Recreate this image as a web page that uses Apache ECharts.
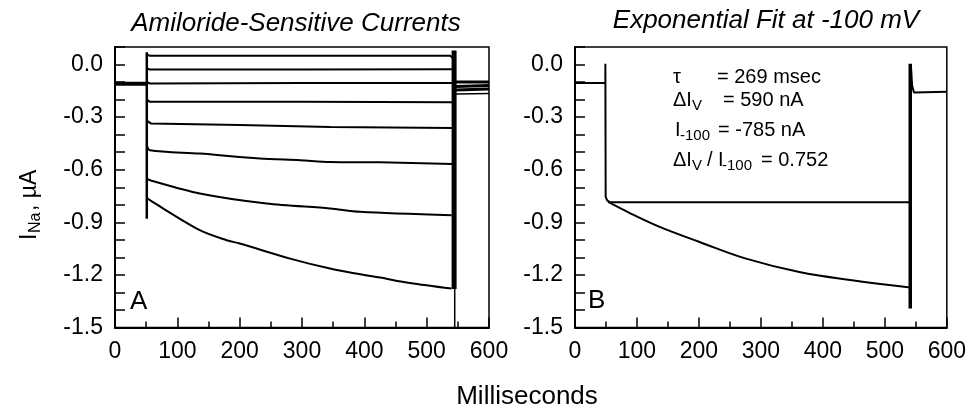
<!DOCTYPE html>
<html>
<head>
<meta charset="utf-8">
<script src="https://cdn.jsdelivr.net/npm/echarts@6/dist/echarts.min.js"></script>
<style>
  html, body { margin: 0; padding: 0; background: #fff; }
  #chart { width: 969px; height: 408px; }
</style>
</head>
<body>
<div id="chart"></div>
<script>
// panel A: amiloride-sensitive currents (ms, uA)
const preA = [[0, -0.11], [51, -0.11]];
const onA = [[51, 0.07], [51, -0.88]];
const traceA1 = [[51, 0.06], [56, 0.05], [300, 0.05], [538, 0.05], [542, 0.035]];
const traceA2 = [[51, -0.02], [56, -0.029], [300, -0.028], [542, -0.027]];
const traceA3 = [[51, -0.1], [56, -0.108], [300, -0.106], [542, -0.105]];
const traceA4 = [[51, -0.2], [56, -0.213], [300, -0.213], [542, -0.215]];
const traceA5 = [[51, -0.32], [58, -0.337], [200, -0.345], [345, -0.356], [542, -0.362]];
const traceA6 = [[51, -0.46], [56, -0.489], [136, -0.508], [232, -0.536], [297, -0.546], [345, -0.556], [425, -0.558], [542, -0.568]];
const traceA7 = [[51, -0.65], [56, -0.66], [136, -0.736], [243, -0.793], [345, -0.821], [393, -0.84], [540, -0.86]];
const traceA8 = [[51, -0.76], [56, -0.774], [136, -0.945], [179, -1.002], [200, -1.021], [281, -1.107], [345, -1.164], [393, -1.196], [425, -1.215], [473, -1.246], [540, -1.278]];
const offA = [[544, 0.08], [544, -1.28]];
const offTailA = [[545, -1.28], [545, -1.5]];
const postA1 = [[547, -0.1], [600, -0.1]];
const postA2 = [[547, -0.125], [600, -0.12]];
const postA3 = [[547, -0.145], [600, -0.14]];
const postA4 = [[547, -0.168], [600, -0.165]];

// panel B: exponential fit at -100 mV
const preB = [[0, -0.105], [49, -0.105], [49, 0.005], [49.5, -0.755], [52, -0.775], [56, -0.785], [541, -0.785]];
const fitB = [[53.5, -0.784], [90, -0.85], [136.6, -0.926], [201, -1.012], [276, -1.107], [362, -1.183], [447, -1.23], [541, -1.272]];
const offB = [[541, 0.005], [541, -1.392]];
const postB = [[542, 0.0], [544, -0.12], [547, -0.16], [549, -0.165], [600, -0.155]];

const FONT = 'Liberation Sans';

function xAxis(gi) {
  return {
    type: 'value', gridIndex: gi, min: 0, max: 600, interval: 100,
    axisLine: { show: true, onZero: false, lineStyle: { color: '#000', width: 2 } },
    axisTick: { inside: true, length: 10, lineStyle: { color: '#000', width: 1.5 } },
    minorTick: { show: true, splitNumber: 2, length: 6, lineStyle: { color: '#000', width: 1.5 } },
    splitLine: { show: false },
    axisLabel: { color: '#000', fontSize: 23, fontFamily: FONT, margin: 13 }
  };
}

function yAxis(gi) {
  return {
    type: 'value', gridIndex: gi, min: -1.5, max: 0.1, interval: 0.1,
    axisLine: { show: true, onZero: false, lineStyle: { color: '#000', width: 2 } },
    axisTick: { inside: true, length: 10, lineStyle: { color: '#000', width: 1.5 } },
    splitLine: { show: false },
    axisLabel: {
      color: '#000', fontSize: 23, fontFamily: FONT, margin: 12,
      formatter: v => {
        const k = Math.round(v * 10);
        return k % 3 === 0 && k <= 0 ? (k / 10).toFixed(1) : '';
      }
    }
  };
}

function line(data, gi, width, smooth) {
  return {
    type: 'line', xAxisIndex: gi, yAxisIndex: gi, data,
    symbol: 'none', smooth: smooth || false, animation: false,
    lineStyle: { color: '#000', width }
  };
}

const chart = echarts.init(document.getElementById('chart'));

chart.setOption({
  animation: false,
  backgroundColor: '#fff',
  grid: [
    { left: 115, top: 47, width: 374, height: 280.5, show: true, borderColor: '#000', borderWidth: 1.5 },
    { left: 575, top: 47, width: 373, height: 280.5, show: true, borderColor: '#000', borderWidth: 1.5 }
  ],
  xAxis: [xAxis(0), xAxis(1)],
  yAxis: [yAxis(0), yAxis(1)],
  series: [
    line(preA, 0, 4),
    line(onA, 0, 2.5),
    line(traceA1, 0, 2),
    line(traceA2, 0, 2),
    line(traceA3, 0, 2),
    line(traceA4, 0, 2),
    line(traceA5, 0, 2),
    line(traceA6, 0, 2, 0.3),
    line(traceA7, 0, 2, 0.3),
    line(traceA8, 0, 2, 0.3),
    line(offA, 0, 5),
    line(offTailA, 0, 1.5),
    line(postA1, 0, 3),
    line(postA2, 0, 3),
    line(postA3, 0, 3),
    line(postA4, 0, 1.5),
    line(preB, 1, 2),
    line(fitB, 1, 2, 0.4),
    line(offB, 1, 3.5),
    line(postB, 1, 2)
  ],
  graphic: [
    { type: 'text', x: 296, y: 24, style: { text: 'Amiloride-Sensitive Currents', font: 'italic 26px "Liberation Sans"', fill: '#000', textAlign: 'center', textVerticalAlign: 'middle' } },
    { type: 'text', x: 766, y: 21, style: { text: 'Exponential Fit at -100 mV', font: 'italic 26px "Liberation Sans"', fill: '#000', textAlign: 'center', textVerticalAlign: 'middle' } },
    { type: 'text', x: 527, y: 397, style: { text: 'Milliseconds', font: '26px "Liberation Sans"', fill: '#000', textAlign: 'center', textVerticalAlign: 'middle' } },
    { type: 'text', x: 130, y: 302, style: { text: 'A', font: '26px "Liberation Sans"', fill: '#000', textAlign: 'left', textVerticalAlign: 'middle' } },
    { type: 'text', x: 588, y: 301, style: { text: 'B', font: '26px "Liberation Sans"', fill: '#000', textAlign: 'left', textVerticalAlign: 'middle' } },
    {
      type: 'group', x: 30, y: 200, rotation: Math.PI / 2,
      children: [
        { type: 'text', x: -40, y: 0, style: { text: 'I', font: '23px "Liberation Sans"', fill: '#000', textAlign: 'left', textVerticalAlign: 'middle' } },
        { type: 'text', x: -33, y: 6, style: { text: 'Na', font: '16px "Liberation Sans"', fill: '#000', textAlign: 'left', textVerticalAlign: 'middle' } },
        { type: 'text', x: -11, y: 0, style: { text: ', \u00b5A', font: '23px "Liberation Sans"', fill: '#000', textAlign: 'left', textVerticalAlign: 'middle' } }
      ]
    },
    // fit parameters
    { type: 'text', x: 673, y: 77, style: { text: '\u03c4', font: '20px "Liberation Sans"', fill: '#000', textVerticalAlign: 'middle' } },
    { type: 'text', x: 717, y: 77, style: { text: '= 269 msec', font: '20px "Liberation Sans"', fill: '#000', textVerticalAlign: 'middle' } },
    { type: 'text', x: 673, y: 100, style: { text: '\u0394I', font: '20px "Liberation Sans"', fill: '#000', textVerticalAlign: 'middle' } },
    { type: 'text', x: 692, y: 106, style: { text: 'V', font: '15px "Liberation Sans"', fill: '#000', textVerticalAlign: 'middle' } },
    { type: 'text', x: 723, y: 100, style: { text: '= 590 nA', font: '20px "Liberation Sans"', fill: '#000', textVerticalAlign: 'middle' } },
    { type: 'text', x: 675, y: 130, style: { text: 'I', font: '20px "Liberation Sans"', fill: '#000', textVerticalAlign: 'middle' } },
    { type: 'text', x: 680, y: 136, style: { text: '-100', font: '15px "Liberation Sans"', fill: '#000', textVerticalAlign: 'middle' } },
    { type: 'text', x: 718, y: 130, style: { text: '= -785 nA', font: '20px "Liberation Sans"', fill: '#000', textVerticalAlign: 'middle' } },
    { type: 'text', x: 673, y: 160, style: { text: '\u0394I', font: '20px "Liberation Sans"', fill: '#000', textVerticalAlign: 'middle' } },
    { type: 'text', x: 692, y: 166, style: { text: 'V', font: '15px "Liberation Sans"', fill: '#000', textVerticalAlign: 'middle' } },
    { type: 'text', x: 707, y: 160, style: { text: '/ I', font: '20px "Liberation Sans"', fill: '#000', textVerticalAlign: 'middle' } },
    { type: 'text', x: 722, y: 166, style: { text: '-100', font: '15px "Liberation Sans"', fill: '#000', textVerticalAlign: 'middle' } },
    { type: 'text', x: 761, y: 160, style: { text: '= 0.752', font: '20px "Liberation Sans"', fill: '#000', textVerticalAlign: 'middle' } }
  ]
});
</script>
</body>
</html>
